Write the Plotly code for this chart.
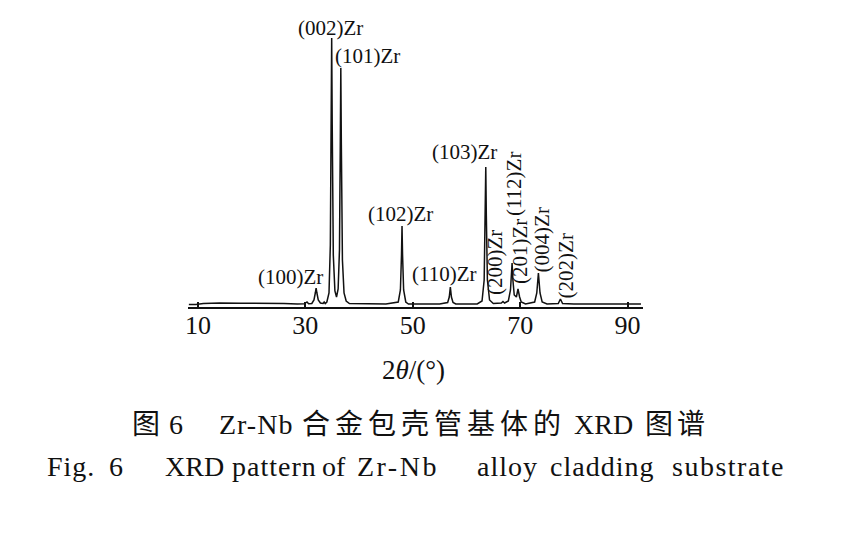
import plotly.graph_objects as go

# ---------------- data ----------------
two_theta = [8.3, 9.6, 11.0, 14.0, 18.0, 22.0, 26.0, 28.5, 29.8, 30.3, 30.6, 31.2,
             31.6, 31.85, 32.0, 32.15, 32.4, 32.8, 33.3, 33.5, 33.7, 34.0, 34.4, 34.65,
             34.8, 34.9, 35.0, 35.2, 35.5, 35.8, 36.1, 36.35, 36.5, 36.6, 36.7, 36.9,
             37.2, 37.6, 38.2, 42.0, 45.0, 47.3, 47.7, 47.9, 48.0, 48.1, 48.3, 48.7,
             49.2, 52.0, 55.0, 56.5, 56.8, 57.0, 57.2, 57.5, 58.0, 62.0, 62.9, 63.3,
             63.5, 63.6, 63.7, 63.9, 64.3, 65.0, 66.5, 66.8, 67.1, 67.8, 68.2, 68.35,
             68.5, 68.65, 68.9, 69.3, 69.6, 69.9, 70.2, 71.0, 72.7, 73.1, 73.4, 73.7,
             74.1, 75.0, 77.1, 77.5, 77.9, 80.0, 85.0, 92.5]
intensity = [0.5, 0.5, 1.5, 2.0, 1.8, 1.8, 1.5, 1.0, 1.2, 3.0, 1.2, 1.5,
             5.0, 12.0, 17.0, 12.0, 5.0, 2.0, 1.5, 3.0, 1.5, 3.0, 12.0, 60.0,
             180.0, 267.0, 180.0, 50.0, 14.0, 8.0, 16.0, 55.0, 160.0, 237.0, 160.0, 45.0,
             12.0, 4.0, 1.5, 1.0, 1.0, 3.0, 15.0, 50.0, 79.0, 50.0, 15.0, 3.0,
             1.0, 1.0, 1.0, 2.5, 8.0, 18.0, 8.0, 2.5, 1.0, 1.0, 4.0, 25.0,
             90.0, 138.0, 90.0, 25.0, 5.0, 1.5, 2.0, 3.5, 2.0, 4.0, 15.0, 25.0,
             42.0, 25.0, 10.0, 8.0, 16.0, 8.0, 3.0, 1.0, 3.0, 12.0, 32.0, 12.0,
             3.0, 1.0, 1.5, 6.0, 1.5, 1.0, 1.0, 1.0]

peak_labels = ["(100)Zr", "(002)Zr", "(101)Zr", "(102)Zr", "(110)Zr", "(103)Zr",
               "(200)Zr", "(112)Zr", "(201)Zr", "(004)Zr", "(202)Zr"]
peak_pos = [32.0, 34.9, 36.6, 48.0, 57.0, 63.6, 66.8, 68.5, 69.6, 73.4, 77.5]
peak_height = [17, 267, 237, 79, 18, 138, 3, 42, 16, 32, 6]

tick_vals = [10, 30, 50, 70, 90]
tick_text = ["10", "30", "50", "70", "90"]

x_title = "2<i>θ</i>/(°)"
caption_cn = ["图", "6", "Zr-Nb", "合金包壳管基体的", "XRD", "图谱"]
caption_en = ["Fig.", "6", "XRD", "pattern", "of", "Zr-Nb", "alloy", "cladding", "substrate"]

# ---------------- styling / layout ----------------
SERIF = "Liberation Serif, Noto Sans CJK SC, serif"
OFF = 8                      # page body margin of the html page
W, H = 846 - OFF, 534 - OFF
ML, MR, MT, MB = 188 - OFF, 203, 10 - OFF, 227

fig = go.Figure()
fig.add_trace(go.Scatter(x=two_theta, y=intensity, mode="lines",
                         line=dict(color="#111111", width=1.5), showlegend=False,
                         hoverinfo="skip"))

# label offsets (px) relative to the peak top: (dx, dy up, rotated?)
label_style = [(-26, 11, False), (-1, 10, False), (27, 12, False), (-2, 12, False),
               (-6, 13, False), (-21, 15, False), (-8, 40, True), (2, 79, True),
               (2, 37, True), (4, 33, True), (6, 33, True)]
annotations = []
for txt, px, ph, (dx, dy, rot) in zip(peak_labels, peak_pos, peak_height, label_style):
    annotations.append(dict(x=px, y=ph, xref="x", yref="y", text=txt, showarrow=False,
                            xshift=dx, yshift=dy, textangle=-90 if rot else 0,
                            xanchor="center", yanchor="middle",
                            font=dict(family=SERIF, size=21, color="#111111")))

def paper_x(px):
    return (px - OFF - ML) / (W - ML - MR)

def paper_y(py):
    return (H - MB - (py - OFF)) / (H - MT - MB)

annotations.append(dict(x=paper_x(413), y=paper_y(370), xref="paper", yref="paper",
                        text=x_title, showarrow=False, xanchor="center", yanchor="middle",
                        font=dict(family=SERIF, size=27, color="#111111")))

cn_left = [130, 167, 217, 300, 572, 643]
cn_spacing = [0, 0, 1, 5, 0, 4]
for txt, lx, sp in zip(caption_cn, cn_left, cn_spacing):
    t = txt if sp == 0 else f'<span style="letter-spacing:{sp}px">{txt}</span>'
    annotations.append(dict(x=paper_x(lx), y=paper_y(424), xref="paper", yref="paper",
                            text=t, showarrow=False, xanchor="left", yanchor="middle",
                            font=dict(family=SERIF, size=28, color="#111111")))

en_left = [45, 107, 163, 230, 320, 355, 475, 548, 670]
en_spacing = [1, 0, 0, 1, 0, 2.5, 1, 1, 1.5]
for txt, lx, sp in zip(caption_en, en_left, en_spacing):
    t = txt if sp == 0 else f'<span style="letter-spacing:{sp}px">{txt}</span>'
    annotations.append(dict(x=paper_x(lx), y=paper_y(466), xref="paper", yref="paper",
                            text=t, showarrow=False, xanchor="left", yanchor="middle",
                            font=dict(family=SERIF, size=28, color="#111111")))

fig.update_layout(
    width=W, height=H,
    margin=dict(l=ML, r=MR, t=MT, b=MB),
    paper_bgcolor="white", plot_bgcolor="white",
    annotations=annotations,
    xaxis=dict(range=[8.14, 92.88], tickvals=tick_vals, ticktext=tick_text,
               showgrid=False, zeroline=False, showline=True, linecolor="#111111",
               linewidth=2, ticks="inside", ticklen=5, tickwidth=1.5, tickcolor="#111111",
               ticklabelstandoff=-6,
               tickfont=dict(family=SERIF, size=26, color="#111111")),
    yaxis=dict(range=[-2, 295], visible=False, showgrid=False, zeroline=False),
)

fig.write_html("out.html")
